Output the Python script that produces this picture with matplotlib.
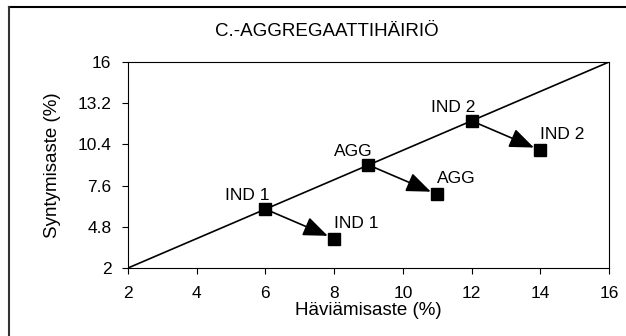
import matplotlib
matplotlib.use('Agg')
import matplotlib.pyplot as plt
from matplotlib.lines import Line2D
from matplotlib.patches import ArrowStyle

plt.rcParams['font.family'] = ['Liberation Sans', 'DejaVu Sans']

# data
labels = ['IND 1', 'AGG', 'IND 2']
havi_before = [6, 9, 12]
synt_before = [6, 9, 12]
havi_after = [8, 11, 14]
synt_after = [4, 7, 10]
ticks_x = [2, 4, 6, 8, 10, 12, 14, 16]
ticks_y = [2, 4.8, 7.6, 10.4, 13.2, 16]
tick_y_labels = ['2', '4.8', '7.6', '10.4', '13.2', '16']

W, H = 626, 336
fig = plt.figure(figsize=(W / 100, H / 100), dpi=100)
ax = fig.add_axes([128 / W, (H - 268) / H, 481 / W, 206 / H])

# diagonal
ax.plot([2, 16], [2, 16], color='black', lw=1.2, zorder=2)

ax.plot(havi_before, synt_before, 's', color='black', ms=9, zorder=4)
ax.plot(havi_after, synt_after, 's', color='black', ms=9, zorder=4)

style = ArrowStyle('-|>', head_length=1.5, head_width=0.6)
for x0, y0, x1, y1 in zip(havi_before, synt_before, havi_after, synt_after):
    ax.annotate('', xy=(x1, y1), xytext=(x0, y0),
                arrowprops=dict(arrowstyle=style, mutation_scale=10, color='black',
                                lw=1.2, shrinkA=0, shrinkB=5), zorder=3)

for lab, x, y in zip(labels, havi_before, synt_before):
    ax.annotate(lab, (x, y), xytext=(4, 6), textcoords='offset pixels',
                ha='right', va='bottom', fontsize=12.5)
for lab, x, y in zip(labels, havi_after, synt_after):
    ax.annotate(lab, (x, y), xytext=(0, 8), textcoords='offset pixels',
                ha='left', va='bottom', fontsize=12.5)

ax.set_xlim(2, 16)
ax.set_ylim(2, 16)
ax.set_xticks(ticks_x)
ax.set_yticks(ticks_y)
ax.set_yticklabels(tick_y_labels)
ax.tick_params(direction='out', length=4, width=0.8, labelsize=12.5)
ax.tick_params(axis='x', pad=9)
ax.tick_params(axis='y', pad=8)
for s in ax.spines.values():
    s.set_linewidth(0.8)

ax.set_xlabel('Häviämisaste (%)', fontsize=13.5, labelpad=1)
ax.set_ylabel('Syntymisaste (%)', fontsize=13.5, labelpad=12)

fig.text(327 / W, 1 - 31 / H, 'C.-AGGREGAATTIHÄIRIÖ', ha='center', va='center', fontsize=13.5)

# outer frame (top and left only visible)
fig.add_artist(Line2D([8.5 / W, 1], [1 - 7 / H, 1 - 7 / H], color='black', lw=1.5,
                      transform=fig.transFigure))
fig.add_artist(Line2D([8.5 / W, 8.5 / W], [0, 1 - 7 / H], color='#333333', lw=1.5,
                      transform=fig.transFigure))

fig.savefig('out.png', dpi=100)
